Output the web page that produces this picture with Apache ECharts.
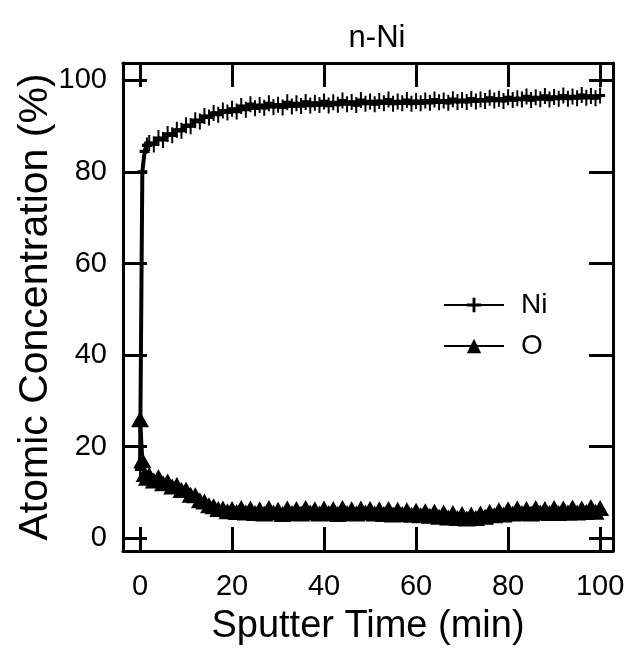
<!DOCTYPE html>
<html>
<head>
<meta charset="utf-8">
<script src="https://cdn.jsdelivr.net/npm/echarts@6/dist/echarts.min.js"></script>
<style>html,body{margin:0;padding:0;background:#fff;}#c{width:631px;height:654px;}</style>
</head>
<body>
<div id="c"></div>
<script>
const chartTitle = 'n-Ni';
const xName = 'Sputter Time (min)';
const yName = 'Atomic Concentration (%)';
const xTicks = [0, 20, 40, 60, 80, 100];
const yTicks = [0, 20, 40, 60, 80, 100];
const timeMin = [0, 0.5, 1, 1.5, 2,
  3, 4, 5, 6, 7, 8, 9, 10, 11, 12, 13, 14, 15, 16, 17, 18, 19, 20,
  21, 22, 23, 24, 25, 26, 27, 28, 29, 30,
  31, 32, 33, 34, 35, 36, 37, 38, 39, 40,
  41, 42, 43, 44, 45, 46, 47, 48, 49, 50,
  51, 52, 53, 54, 55, 56, 57, 58, 59, 60,
  61, 62, 63, 64, 65, 66, 67, 68, 69, 70,
  71, 72, 73, 74, 75, 76, 77, 78, 79, 80,
  81, 82, 83, 84, 85, 86, 87, 88, 89, 90,
  91, 92, 93, 94, 95, 96, 97, 98, 99, 100];
const niValues = [15, 80, 84.5, 85.8, 86.3,
  86.0, 87.4, 87.0, 88.3, 88.0, 89.2, 89.0, 90.2, 90.0, 91.3, 91.0, 92.2, 91.9, 92.9, 92.5, 93.4, 93.0, 93.8,
  93.2, 94.4, 93.6, 94.8, 93.9, 94.6, 94.0, 95.0, 94.2, 94.7,
  94.1, 95.2, 94.3, 95.0, 94.4, 95.3, 94.5, 95.1, 94.6, 95.4,
  94.5, 95.2, 94.7, 95.6, 94.8, 95.3, 94.6, 95.7, 94.9, 95.4,
  94.8, 95.5, 95.0, 95.8, 94.9, 95.4, 95.0, 95.7, 94.9, 95.5,
  95.0, 95.6, 95.1, 95.8, 95.2, 95.6, 95.1, 95.9, 95.3, 95.7,
  95.3, 96.0, 95.4, 95.8, 95.5, 96.2, 95.6, 96.0, 95.5, 96.3,
  95.7, 96.1, 95.8, 96.5, 95.7, 96.3, 95.9, 96.6, 95.8, 96.4,
  96.0, 96.7, 96.0, 96.5, 96.1, 96.8, 96.2, 96.6, 96.1, 96.7];
const oValues = [26, 17, 14, 13.2, 13.8,
  12.6, 13.3, 12.0, 12.4, 11.3, 11.6, 10.5, 10.6, 9.5, 9.4, 8.3, 8.0, 7.2, 7.0, 6.4, 6.5, 5.9, 6.4,
  5.7, 6.6, 5.6, 6.5, 5.5, 6.3, 5.4, 6.6, 5.6, 6.2,
  5.3, 6.5, 5.5, 6.4, 5.4, 6.6, 5.6, 6.3, 5.4, 6.5,
  5.5, 6.4, 5.3, 6.6, 5.5, 6.3, 5.4, 6.5, 5.6, 6.4,
  5.4, 6.3, 5.3, 6.4, 5.2, 6.2, 5.3, 6.1, 5.1, 6.0,
  5.0, 5.9, 4.9, 5.8, 4.7, 5.6, 4.5, 5.5, 4.4, 5.3,
  4.3, 5.2, 4.4, 5.4, 4.7, 5.8, 5.0, 6.1, 5.2, 6.3,
  5.4, 6.5, 5.5, 6.4, 5.4, 6.6, 5.6, 6.4, 5.5, 6.6,
  5.5, 6.5, 5.6, 6.7, 5.6, 6.5, 5.7, 6.8, 5.8, 6.6];
const seriesNames = ['Ni', 'O'];

const FONT = '"Liberation Sans", Arial, Helvetica, sans-serif';
const plusPath = 'path://M4,0H6V4H10V6H6V10H4V6H0V4H4Z';
const X_MIN = -3.7, X_MAX = 102.8, Y_MIN = -2.8, Y_MAX = 103.8;

function pairs(xs, ys) { return xs.map((x, i) => [x, ys[i]]); }

const axisBase = {
  type: 'value',
  splitLine: { show: false },
  axisLine: { show: true, onZero: false, lineStyle: { color: '#000', width: 3 } },
  axisTick: { show: true, inside: true, length: 24, lineStyle: { color: '#000', width: 3 } }
};

const chart = echarts.init(document.getElementById('c'), null, { renderer: 'canvas' });
chart.setOption({
  backgroundColor: '#fff',
  animation: false,
  title: {
    text: chartTitle, left: 372, top: 18, textAlign: 'center',
    textStyle: { fontFamily: FONT, fontSize: 31, fontWeight: 'normal', color: '#000' }
  },
  legend: {
    orient: 'vertical', left: 443, top: 291, padding: 0, itemWidth: 60, itemHeight: 18, itemGap: 13,
    data: seriesNames,
    textStyle: { fontFamily: FONT, fontSize: 28, color: '#000', padding: [0, 0, 0, 12] }
  },
  grid: { left: 123, right: 18, top: 63, bottom: 103, containLabel: false, outerBoundsMode: 'none' },
  xAxis: [
    Object.assign({}, axisBase, {
      min: X_MIN, max: X_MAX, position: 'bottom',
      name: xName, nameLocation: 'middle', nameGap: 57, nameMoveOverlap: false,
      nameTextStyle: { fontFamily: FONT, fontSize: 38, color: '#000' },
      axisTick: Object.assign({}, axisBase.axisTick, { customValues: xTicks }),
      axisLabel: { customValues: xTicks, margin: 21, fontFamily: FONT, fontSize: 29, color: '#000' }
    }),
    Object.assign({}, axisBase, {
      min: X_MIN, max: X_MAX, position: 'top',
      axisTick: Object.assign({}, axisBase.axisTick, { customValues: xTicks }),
      axisLabel: { show: false }
    })
  ],
  yAxis: [
    Object.assign({}, axisBase, {
      min: Y_MIN, max: Y_MAX, position: 'left',
      name: yName, nameLocation: 'middle', nameGap: 67, nameMoveOverlap: false,
      nameTextStyle: { fontFamily: FONT, fontSize: 41, color: '#000' },
      axisTick: Object.assign({}, axisBase.axisTick, { customValues: yTicks }),
      axisLabel: { customValues: yTicks, margin: 16, fontFamily: FONT, fontSize: 29, color: '#000' }
    }),
    Object.assign({}, axisBase, {
      min: Y_MIN, max: Y_MAX, position: 'right',
      axisTick: Object.assign({}, axisBase.axisTick, { customValues: yTicks }),
      axisLabel: { show: false }
    })
  ],
  series: [
    {
      name: seriesNames[0], type: 'line', xAxisIndex: 0, yAxisIndex: 0,
      data: pairs(timeMin, niValues),
      symbol: plusPath, symbolSize: [10, 16], symbolKeepAspect: false,
      showAllSymbol: true,
      lineStyle: { color: '#000', width: 4 },
      itemStyle: { color: '#000', borderWidth: 0 }
    },
    {
      name: seriesNames[1], type: 'line', xAxisIndex: 0, yAxisIndex: 0,
      data: pairs(timeMin, oValues),
      symbol: 'triangle', symbolSize: [18, 16],
      showAllSymbol: true,
      lineStyle: { color: '#000', width: 4 },
      itemStyle: { color: '#000', borderWidth: 0 }
    }
  ]
});
</script>
</body>
</html>
